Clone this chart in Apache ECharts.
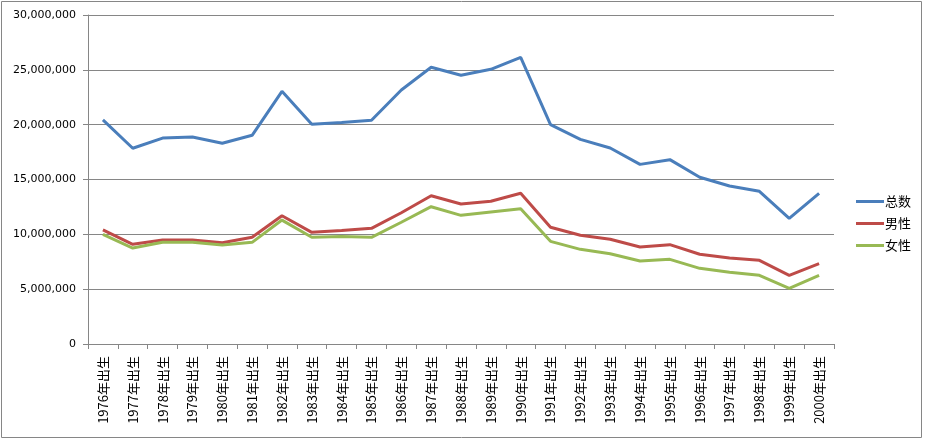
<!DOCTYPE html>
<html>
<head>
<meta charset="utf-8">
<script src="https://cdn.jsdelivr.net/npm/echarts@6/dist/echarts.min.js"></script>
<style>
html,body{margin:0;padding:0;background:#fff;}
#c{width:925px;height:441px;}
</style>
</head>
<body>
<div id="c"></div>
<script>
var categories = ['1976年出生','1977年出生','1978年出生','1979年出生','1980年出生','1981年出生','1982年出生','1983年出生','1984年出生','1985年出生','1986年出生','1987年出生','1988年出生','1989年出生','1990年出生','1991年出生','1992年出生','1993年出生','1994年出生','1995年出生','1996年出生','1997年出生','1998年出生','1999年出生','2000年出生'];
var seriesNames = ['总数','男性','女性'];
var totalValues = [20430000,17850000,18780000,18870000,18300000,19030000,23040000,20030000,20200000,20400000,23160000,25230000,24500000,25050000,26140000,20000000,18660000,17870000,16380000,16810000,15200000,14410000,13920000,11460000,13740000];
var maleValues = [10400000,9090000,9480000,9480000,9240000,9730000,11700000,10180000,10360000,10550000,11970000,13520000,12770000,13010000,13740000,10640000,9910000,9550000,8850000,9060000,8180000,7840000,7630000,6260000,7320000];
var femaleValues = [10000000,8750000,9270000,9270000,9030000,9270000,11300000,9730000,9800000,9730000,11100000,12520000,11730000,12040000,12340000,9360000,8630000,8230000,7570000,7720000,6900000,6540000,6260000,5080000,6260000];
var yTicks = {min:0, max:30000000, interval:5000000};

var colors = ['#4a7ebb','#be4b48','#98b954'];
var chart = echarts.init(document.getElementById('c'), null, {renderer:'canvas'});
function fmt(v){return String(v).replace(/\B(?=(\d{3})+(?!\d))/g, ',');}
var data = [totalValues, maleValues, femaleValues];
chart.setOption({
  animation:false,
  color: colors,
  graphic:[{type:'rect', shape:{x:1.5,y:1.5,width:920,height:436}, style:{fill:'none', stroke:'#868686', lineWidth:1}, silent:true}],
  grid:{left:88, right:91, top:15, bottom:97, containLabel:false},
  legend:{
    orient:'vertical', left:851, top:190, itemGap:9, itemWidth:28, itemHeight:3, icon:'rect',
    textStyle:{fontSize:13, color:'#000', fontFamily:'Noto Sans CJK SC', padding:[0,0,0,-4]},
    data: seriesNames
  },
  xAxis:{
    type:'category', data:categories, boundaryGap:true,
    axisLine:{lineStyle:{color:'#868686', width:1}},
    axisTick:{show:true, length:5, interval:0, lineStyle:{color:'#868686'}},
    axisLabel:{rotate:90, interval:0, fontSize:13, color:'#000', margin:12, fontFamily:'Noto Sans CJK SC'},
    splitLine:{show:false}
  },
  yAxis:{
    type:'value', min:yTicks.min, max:yTicks.max, interval:yTicks.interval,
    axisLine:{show:true, lineStyle:{color:'#868686', width:1}},
    axisTick:{show:true, length:5, lineStyle:{color:'#868686'}},
    axisLabel:{fontSize:11, color:'#000', margin:12, formatter:fmt, fontFamily:'DejaVu Sans'},
    splitLine:{lineStyle:{color:'#868686', width:1}}
  },
  series: seriesNames.map(function(n,i){
    return {name:n, type:'line', data:data[i], showSymbol:false, symbol:'none', lineStyle:{width:3, color:colors[i]}, itemStyle:{color:colors[i]}};
  })
});
</script>
</body>
</html>
